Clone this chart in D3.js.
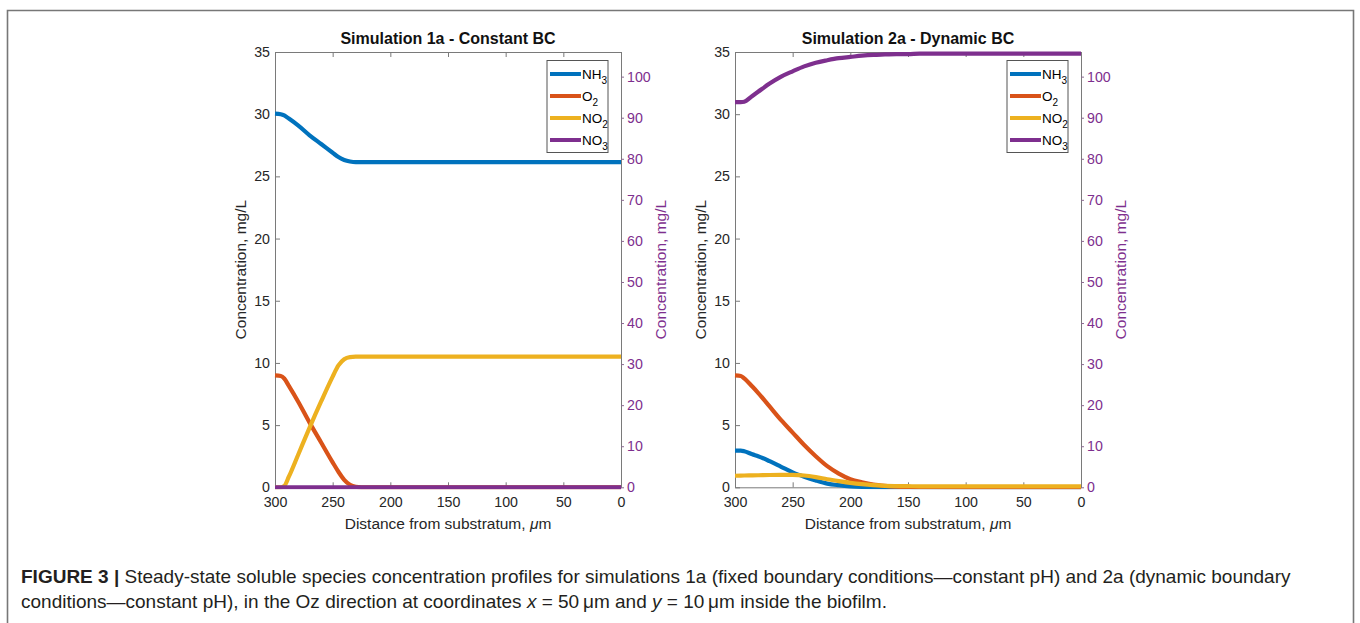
<!DOCTYPE html>
<html><head><meta charset="utf-8">
<script src="https://cdn.jsdelivr.net/npm/d3@7"></script>
<style>
body{margin:0;background:#fff;}
text{font-family:"Liberation Sans",Arial,Helvetica,sans-serif;}
</style>
</head><body>
<svg id="c" width="1360" height="623"></svg>
<script>
// ---------- data ----------
const xTicks = [300, 250, 200, 150, 100, 50, 0];
const yLeftTicks = [0, 5, 10, 15, 20, 25, 30, 35];
const yRightTicks = [0, 10, 20, 30, 40, 50, 60, 70, 80, 90, 100];
const seriesNames = ["NH3", "O2", "NO2", "NO3"];
const titles = ["Simulation 1a - Constant BC", "Simulation 2a - Dynamic BC"];

// Simulation 1a (constant BC)
const dist1 = [300, 295, 292, 288, 280, 270, 260, 250, 245, 240, 235, 230, 225, 220, 200, 100, 0];
const nh3_1 = [30.05, 30.0, 29.9, 29.65, 29.1, 28.3, 27.6, 26.9, 26.55, 26.32, 26.2, 26.15, 26.15, 26.15, 26.15, 26.15, 26.15];
const o2_1  = [9.0, 8.95, 8.75, 8.15, 6.9, 5.2, 3.6, 2.0, 1.25, 0.6, 0.2, 0.04, 0, 0, 0, 0, 0];
const no2_1 = [0, 0, 0.1, 0.85, 2.6, 4.8, 6.9, 8.9, 9.8, 10.3, 10.47, 10.5, 10.5, 10.5, 10.5, 10.5, 10.5];
const no3_1 = [0, 0, 0, 0, 0, 0, 0, 0, 0, 0, 0, 0, 0, 0, 0, 0, 0];

// Simulation 2a (dynamic BC)
const dist2 = [300, 295, 292, 285, 280, 270, 260, 250, 240, 230, 220, 210, 200, 190, 180, 170, 160, 150, 140, 100, 50, 0];
const nh3_2 = [2.95, 2.95, 2.9, 2.65, 2.5, 2.1, 1.65, 1.2, 0.85, 0.55, 0.3, 0.17, 0.08, 0.03, 0.01, 0, 0, 0, 0, 0, 0, 0];
const o2_2  = [9.0, 8.95, 8.75, 8.1, 7.6, 6.5, 5.4, 4.4, 3.4, 2.5, 1.7, 1.1, 0.65, 0.4, 0.22, 0.12, 0.06, 0.03, 0.01, 0, 0, 0];
const no2_2 = [0.93, 0.94, 0.95, 0.96, 0.97, 0.99, 1.0, 1.0, 0.95, 0.82, 0.65, 0.5, 0.36, 0.25, 0.17, 0.12, 0.1, 0.09, 0.08, 0.08, 0.08, 0.08];
const no3_2 = [93.8, 93.8, 93.9, 95.3, 96.3, 98.3, 100.0, 101.3, 102.5, 103.4, 104.0, 104.5, 104.8, 105.1, 105.3, 105.4, 105.5, 105.5, 105.6, 105.6, 105.6, 105.6];

const captionBold = "FIGURE 3 |";
const captionLine1 = "Steady-state soluble species concentration profiles for simulations 1a (fixed boundary conditions\u2014constant pH) and 2a (dynamic boundary";

// ---------- styles / layout ----------
const colors = ["#0072BD", "#D95319", "#EDB120", "#7E2F8E"];
const purple = "#7E2F8E";
const axisGray = "#7a7a7a";
const txt = "#262626";
const W = 346, T = 52, B = 487.3;
const panels = [
  {x0: 275, dist: dist1, left: [nh3_1, o2_1, no2_1], right: no3_1, title: titles[0]},
  {x0: 735, dist: dist2, left: [nh3_2, o2_2, no2_2], right: no3_2, title: titles[1]}
];

const svg = d3.select("#c");

// figure frame
svg.append("path")
  .attr("d", "M7.5,623 V10.5 H1353.5 V623")
  .attr("fill", "none").attr("stroke", "#777").attr("stroke-width", 1.6);

panels.forEach((p, pi) => {
  const x = d3.scaleLinear().domain([300, 0]).range([p.x0, p.x0 + W]);
  const yL = d3.scaleLinear().domain([0, 35]).range([B, T]);
  const yR = d3.scaleLinear().domain([0, 106]).range([B, T]);
  const g = svg.append("g");

  // axes
  const ax = (sel) => { sel.selectAll(".domain").attr("stroke", axisGray); sel.selectAll(".tick line").attr("stroke", axisGray); sel.selectAll("text").attr("fill", txt).style("font-size", "14.2px").style("font-family", '"Liberation Sans",Arial,sans-serif'); };
  g.append("g").attr("transform", `translate(0,${B})`)
    .call(d3.axisBottom(x).tickValues(xTicks).tickSize(-5).tickSizeOuter(0).tickPadding(10)).call(ax);
  g.append("g").attr("transform", `translate(0,${T})`)
    .call(d3.axisTop(x).tickValues(xTicks).tickSize(-5).tickSizeOuter(0).tickFormat("")).call(ax);
  g.append("g").attr("transform", `translate(${p.x0},0)`)
    .call(d3.axisLeft(yL).tickValues(yLeftTicks).tickSize(-5).tickSizeOuter(0).tickPadding(5)).call(ax);
  const gr = g.append("g").attr("transform", `translate(${p.x0 + W},0)`)
    .call(d3.axisRight(yR).tickValues(yRightTicks).tickSize(3).tickSizeOuter(0).tickPadding(3)).call(ax);
  gr.selectAll("text").attr("fill", purple);
  gr.selectAll(".tick line").attr("stroke", "#8a6a90");

  // title
  g.append("text").attr("x", p.x0 + W / 2).attr("y", 44).attr("text-anchor", "middle")
    .style("font-size", "16px").style("font-weight", "bold").attr("fill", "#111").text(p.title);
  // x label
  const xl = g.append("text").attr("x", p.x0 + W / 2).attr("y", 529).attr("text-anchor", "middle")
    .style("font-size", "15.5px").attr("fill", txt);
  xl.append("tspan").text("Distance from substratum, ");
  xl.append("tspan").style("font-style", "italic").text("\u03bc");
  xl.append("tspan").text("m");
  // y labels
  g.append("text").attr("transform", `translate(${p.x0 - 29},${(T + B) / 2}) rotate(-90)`)
    .attr("text-anchor", "middle").style("font-size", "15.5px").attr("fill", txt).text("Concentration, mg/L");
  g.append("text").attr("transform", `translate(${p.x0 + W + 45},${(T + B) / 2}) rotate(-90)`)
    .attr("text-anchor", "middle").style("font-size", "15.5px").attr("fill", purple).text("Concentration, mg/L");

  // lines
  const clipId = "clip" + pi;
  svg.append("clipPath").attr("id", clipId).append("rect")
    .attr("x", p.x0 - 2).attr("y", T - 3).attr("width", W + 4).attr("height", B - T + 5);
  const lg = g.append("g").attr("clip-path", `url(#${clipId})`);
  p.left.forEach((vals, i) => {
    const line = d3.line().x((d, k) => x(p.dist[k])).y(d => yL(d)).curve(d3.curveMonotoneX);
    lg.append("path").datum(vals).attr("d", line).attr("fill", "none")
      .attr("stroke", colors[i]).attr("stroke-width", 4.2).attr("stroke-linejoin", "round");
  });
  const lineR = d3.line().x((d, k) => x(p.dist[k])).y(d => yR(d)).curve(d3.curveMonotoneX);
  lg.append("path").datum(p.right).attr("d", lineR).attr("fill", "none")
    .attr("stroke", colors[3]).attr("stroke-width", 4.2).attr("stroke-linejoin", "round");

  // legend
  const lx = p.x0 + W - 74, ly = 60.5;
  const leg = g.append("g");
  leg.append("rect").attr("x", lx).attr("y", ly).attr("width", 61).attr("height", 92)
    .attr("fill", "#fff").attr("stroke", "#555").attr("stroke-width", 1);
  seriesNames.forEach((nm, i) => {
    const yy = ly + 13.5 + i * 22;
    leg.append("line").attr("x1", lx + 3).attr("x2", lx + 34).attr("y1", yy).attr("y2", yy)
      .attr("stroke", colors[i]).attr("stroke-width", 4);
    const t = leg.append("text").attr("x", lx + 35).attr("y", yy + 4.5).style("font-size", "13.5px").attr("fill", "#000");
    const base = nm.replace(/\d+$/, ""), sub = nm.slice(base.length);
    t.append("tspan").text(base);
    t.append("tspan").attr("dy", 5).style("font-size", "10px").text(sub);
  });
});

// caption
const cap = svg.append("g").attr("fill", "#231f20");
const c1 = cap.append("text").attr("x", 21).attr("y", 583).style("font-size", "16.5px");
c1.append("tspan").style("font-weight", "bold").text(captionBold);
c1.append("tspan").text(" " + captionLine1);
const c2 = cap.append("text").attr("x", 21).attr("y", 608).style("font-size", "16.5px");
c2.append("tspan").text("conditions\u2014constant pH), in the Oz direction at coordinates ");
c2.append("tspan").style("font-style", "italic").text("x");
c2.append("tspan").text(" = 50\u2009\u03bcm and ");
c2.append("tspan").style("font-style", "italic").text("y");
c2.append("tspan").text(" = 10\u2009\u03bcm inside the biofilm.");
// fit caption font to the reference line width
const w1 = c1.node().getComputedTextLength();
const fs = 16.5 * 1270 / w1;
c1.style("font-size", fs + "px");
c2.style("font-size", fs + "px");
</script>
</body></html>
